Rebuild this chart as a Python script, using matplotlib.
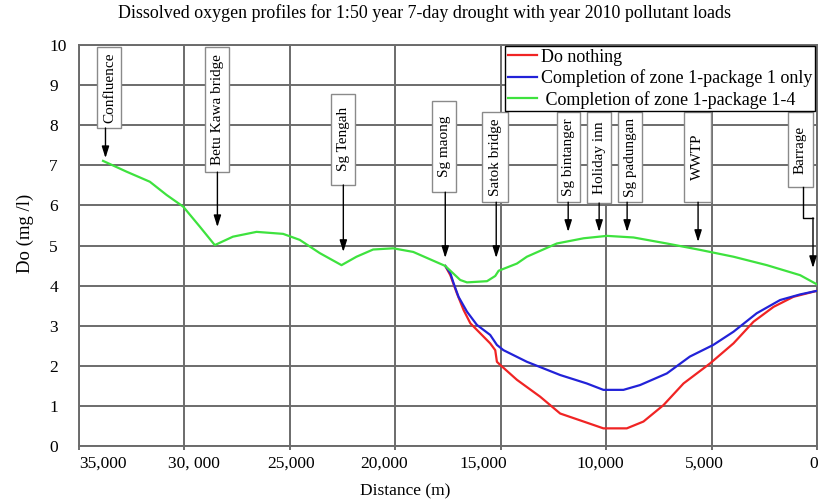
import matplotlib
matplotlib.use("Agg")
import matplotlib.pyplot as plt
from matplotlib.patches import Rectangle
from matplotlib.transforms import ScaledTranslation

plt.rcParams['font.family'] = ['Liberation Serif', 'DejaVu Serif']

# ---------------- data ----------------
title = "Dissolved oxygen profiles for 1:50 year 7-day drought with year 2010 pollutant loads"
xlabel = "Distance (m)"
ylabel = "Do (mg /l)"

x_ticks = [35000, 30000, 25000, 20000, 15000, 10000, 5000, 0]
x_tick_labels = ["35,000", "30, 000", "25,000", "20,000", "15,000", "10,000", "5,000", "0"]
y_ticks = [0, 1, 2, 3, 4, 5, 6, 7, 8, 9, 10]

series_names = ["Do nothing", "Completion of zone 1-package 1 only", " Completion of zone 1-package 1-4"]

red_x = [17630, 17390, 17080, 16760, 16440, 15970, 15500, 15260, 15180, 15020, 14230, 13130,
         12180, 11070, 10130, 9020, 8230, 7280, 6330, 5070, 3960, 3010, 2060, 1120, 0]
red_y = [4.49, 4.26, 3.81, 3.39, 3.06, 2.81, 2.56, 2.39, 2.10, 2.02, 1.65, 1.23,
         0.81, 0.61, 0.44, 0.44, 0.61, 1.02, 1.56, 2.06, 2.56, 3.10, 3.47, 3.72, 3.87]

blue_x = [17630, 17390, 17235, 17000, 16600, 16130, 15500, 15180, 14870, 13760, 12180, 10920,
          10130, 9180, 8390, 7120, 6030, 4920, 3960, 2860, 1750, 800, 0]
blue_y = [4.49, 4.31, 4.06, 3.72, 3.35, 3.02, 2.77, 2.52, 2.39, 2.10, 1.77, 1.56,
          1.40, 1.40, 1.52, 1.81, 2.23, 2.52, 2.85, 3.31, 3.64, 3.78, 3.87]

green_x = [33860, 32740, 31640, 30845, 30060, 29270, 28560, 27700, 26580, 25320, 24530, 23580,
           22550, 21840, 21050, 20100, 19150, 17630, 16920, 16600, 15650, 15260, 15100, 14230,
           13760, 12340, 11070, 9960, 8700, 7120, 5540, 3960, 2380, 800, 0]
green_y = [7.11, 6.84, 6.59, 6.26, 5.97, 5.47, 5.01, 5.22, 5.34, 5.29, 5.14, 4.81,
           4.51, 4.72, 4.90, 4.93, 4.84, 4.49, 4.14, 4.08, 4.11, 4.24, 4.37, 4.55,
           4.72, 5.05, 5.18, 5.24, 5.20, 5.05, 4.89, 4.72, 4.51, 4.26, 4.03]

# location annotations
loc_names = ["Confluence", "Betu Kawa bridge", "Sg Tengah", "Sg maong", "Satok bridge",
             "Sg bintanger", "Holiday inn", "Sg padungan", "WWTP", "Barrage"]
loc_box_x = [33555, 28436, 22464, 17678, 15261, 11777, 10332, 8863, 5664, 782]
loc_box_w = [1140, 1140, 1140, 1140, 1230, 1090, 1140, 1140, 1280, 1180]
loc_box_top = [9.95, 9.95, 8.78, 8.60, 8.33, 8.33, 8.33, 8.33, 8.33, 8.33]
loc_box_bottom = [7.93, 6.83, 6.51, 6.33, 6.08, 6.08, 6.06, 6.08, 6.08, 6.46]
loc_arrow_x = [33744, 28436, 22464, 17630, 15213, 11800, 10332, 9005, 5640, 190]
loc_arrow_tip = [7.18, 5.46, 4.84, 4.69, 4.69, 5.34, 5.34, 5.34, 5.09, 4.44]
# Barrage uses an elbow connector
barrage_elbow_x = [664, 664, 190]
barrage_elbow_y = [6.46, 5.69, 5.69]

# horizontal offsets (px) of the x tick labels as placed in the original
x_label_shift_px = [24, 9.5, 1, -11, -17, -6, -7, -3]

# ---------------- figure ----------------
fig = plt.figure(figsize=(8.19, 5.04), dpi=100)
ax = fig.add_axes([79 / 819, 1 - 446 / 504, (817 - 79) / 819, (446 - 45) / 504])

grid_c = '#6b6b6b'
ax.set_xlim(35000, 0)
ax.set_ylim(0, 10)
ax.set_xticks(x_ticks)
ax.set_xticklabels(x_tick_labels)
ax.set_yticks(y_ticks)
ax.grid(True, color=grid_c, lw=1.4)
ax.set_axisbelow(True)
for s in ax.spines.values():
    s.set_color(grid_c)
    s.set_linewidth(1.4)
ax.tick_params(axis='x', length=3, width=1.4, color=grid_c, labelsize=12.5, pad=4)
ax.tick_params(axis='y', length=0, labelsize=12.5, pad=21.5)
for lab in ax.get_yticklabels():
    lab.set_horizontalalignment('left')
for lab, dx in zip(ax.get_xticklabels(), x_label_shift_px):
    lab.set_transform(lab.get_transform() + ScaledTranslation(dx / 100, 0, fig.dpi_scale_trans))

l1, = ax.plot(red_x, red_y, color='#f02424', lw=1.6, label=series_names[0], zorder=3)
l2, = ax.plot(blue_x, blue_y, color='#2222d8', lw=1.6, label=series_names[1], zorder=3)
l3, = ax.plot(green_x, green_y, color='#3ee23e', lw=1.6, label=series_names[2], zorder=3)

# annotation boxes & arrows
for name, bx, bw, bt, bb, ax_x, tip in zip(loc_names, loc_box_x, loc_box_w, loc_box_top,
                                           loc_box_bottom, loc_arrow_x, loc_arrow_tip):
    ax.add_patch(Rectangle((bx - bw / 2, bb), bw, bt - bb, facecolor='white',
                           edgecolor='#8a8a8a', lw=1.0, zorder=5, clip_on=False))
    ax.text(bx, (bt + bb) / 2, name, rotation=90, ha='center', va='center',
            fontsize=11, zorder=6)
    if name == "Barrage":
        ax.plot(barrage_elbow_x, barrage_elbow_y, color='black', lw=1.0, zorder=6, clip_on=False)
        ax.annotate('', xy=(barrage_elbow_x[-1], tip), xytext=(barrage_elbow_x[-1], barrage_elbow_y[-1]),
                    arrowprops=dict(arrowstyle='-|>,head_length=0.7,head_width=0.22',
                                    color='black', lw=1.0, shrinkA=0, shrinkB=0),
                    zorder=6, annotation_clip=False)
    else:
        ax.annotate('', xy=(ax_x, tip), xytext=(ax_x, bb),
                    arrowprops=dict(arrowstyle='-|>,head_length=0.7,head_width=0.22',
                                    color='black', lw=1.0, shrinkA=0, shrinkB=0),
                    zorder=6, annotation_clip=False)

leg = ax.legend(handles=[l1, l2, l3], loc='upper right', bbox_to_anchor=(0.9975, 0.9975),
                borderaxespad=0, fontsize=13, frameon=True, fancybox=False,
                edgecolor='black', framealpha=1, borderpad=0.15, labelspacing=0.2,
                handlelength=1.6, handletextpad=0.25)
leg.get_frame().set_linewidth(1.0)
leg.set_zorder(10)

fig.text(424.5 / 819, 1 - 13 / 504, title, ha='center', va='center', fontsize=12.9)
fig.text(405 / 819, 1 - 491 / 504, xlabel, ha='center', va='center', fontsize=12.5)
fig.text(25 / 819, 1 - 233 / 504, ylabel, ha='center', va='center', rotation=90, fontsize=13.5)

fig.savefig('out.png', dpi=100)
